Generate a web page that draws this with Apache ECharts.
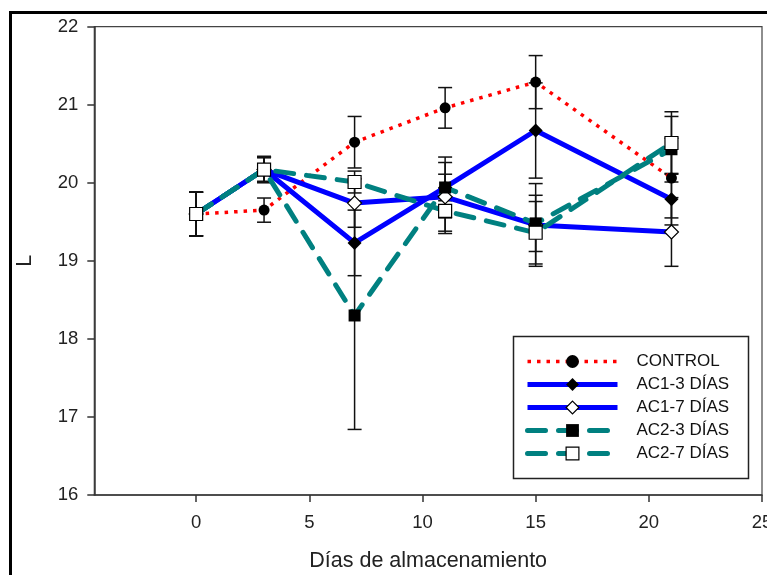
<!DOCTYPE html>
<html><head><meta charset="utf-8">
<script src="https://cdn.jsdelivr.net/npm/echarts@6/dist/echarts.min.js"></script>
<style>html,body{margin:0;padding:0;background:#fff;overflow:hidden}#c{position:absolute;left:0;top:0;width:767px;height:575px}</style>
</head><body><div id="c"></div>
<script>
const days = [0, 3, 7, 11, 15, 21];
const seriesNames = ['CONTROL', 'AC1-3 DÍAS', 'AC1-7 DÍAS', 'AC2-3 DÍAS', 'AC2-7 DÍAS'];
const control = [19.60, 19.65, 20.52, 20.96, 21.29, 20.06];
const controlErr = [0.28, 0.155, 0.33, 0.26, 0.34, 0.51];
const ac13 = [19.60, 20.17, 19.23, 19.94, 20.67, 19.79];
const ac13Err = [0.28, 0.16, 0.42, 0.39, 0.61, 0.33];
const ac17 = [19.60, 20.17, 19.74, 19.82, 19.46, 19.37];
const ac17Err = [0.28, 0.17, 0.31, 0.44, 0.53, 0.44];
const ac23 = [19.60, 20.17, 18.30, 19.94, 19.48, 20.43];
const ac23Err = [0.28, 0.16, 1.46, 0.17, 0.36, 0.42];
const ac27 = [19.60, 20.17, 20.01, 19.64, 19.36, 20.51];
const ac27Err = [0.28, 0.15, 0.14, 0.29, 0.40, 0.40];
const xTicks = [0, 5, 10, 15, 20, 25];
const xTitle = 'Días de almacenamiento';
const yTitle = 'L';

const FONT = 'Liberation Sans, Arial, sans-serif';
const RED = '#ff0000', BLUE = '#0000ff', TEAL = '#008080';

const values = [control, ac13, ac17, ac23, ac27];
const errs = [controlErr, ac13Err, ac17Err, ac23Err, ac27Err];

const lineStyles = [
  {color: RED, width: 3.5, type: [3.5, 6], cap: 'butt'},
  {color: BLUE, width: 5},
  {color: BLUE, width: 5},
  {color: TEAL, width: 5, type: [18, 13], cap: 'round'},
  {color: TEAL, width: 5, type: [18, 13], cap: 'round'}
];
const symbols = ['circle', 'diamond', 'diamond', 'rect', 'rect'];
const symbolSizes = [11, 14, 14, 12, 13];
const itemStyles = [
  {color: '#000'},
  {color: '#000'},
  {color: '#fff', borderColor: '#000', borderWidth: 1.2},
  {color: '#000'},
  {color: '#fff', borderColor: '#000', borderWidth: 1.2}
];

function renderErr(params, api) {
  const x = api.value(0), lo = api.value(1), hi = api.value(2);
  const pLo = api.coord([x, lo]), pHi = api.coord([x, hi]);
  const hw = 7;
  const style = {stroke: '#111', lineWidth: 1.5};
  return {type: 'group', children: [
    {type: 'line', shape: {x1: pLo[0], y1: pLo[1], x2: pHi[0], y2: pHi[1]}, style: style},
    {type: 'line', shape: {x1: pLo[0] - hw, y1: pLo[1], x2: pLo[0] + hw, y2: pLo[1]}, style: style},
    {type: 'line', shape: {x1: pHi[0] - hw, y1: pHi[1], x2: pHi[0] + hw, y2: pHi[1]}, style: style}
  ]};
}

const series = [];
values.forEach((vals, s) => {
  series.push({
    type: 'custom', name: seriesNames[s] + ' err', renderItem: renderErr,
    encode: {x: 0, y: [1, 2]}, silent: true, z: 1,
    data: days.map((d, i) => [d, vals[i] - errs[s][i], vals[i] + errs[s][i]])
  });
});
values.forEach((vals, s) => {
  series.push({
    type: 'line', name: seriesNames[s], z: 2,
    data: days.map((d, i) => [d, vals[i]]),
    symbol: symbols[s], symbolSize: symbolSizes[s], showSymbol: true,
    lineStyle: lineStyles[s], itemStyle: itemStyles[s],
    emphasis: {disabled: true}, silent: true
  });
});

const chart = echarts.init(document.getElementById('c'), null, {renderer: 'canvas', width: 767, height: 575});
chart.setOption({
  animation: false,
  backgroundColor: '#fff',
  grid: {left: 94.3, top: 26.7, right: 5, bottom: 80, show: true, borderColor: '#444', borderWidth: 1.2,
         containLabel: false, outerBoundsMode: 'none'},
  xAxis: {
    type: 'value', min: -4.5, max: 25,
    name: xTitle, nameLocation: 'middle', nameGap: 55,
    nameTextStyle: {fontSize: 21.5, fontFamily: FONT, color: '#222'},
    axisLine: {onZero: false, lineStyle: {color: '#333', width: 1.5}},
    axisTick: {show: true, length: 7, customValues: xTicks, lineStyle: {color: '#333', width: 1.5}},
    axisLabel: {customValues: xTicks, fontSize: 18.5, fontFamily: FONT, color: '#222', margin: 18},
    splitLine: {show: false}
  },
  yAxis: {
    type: 'value', min: 16, max: 22, interval: 1,
    name: yTitle, nameLocation: 'middle', nameGap: 58, nameRotate: 90,
    nameTextStyle: {fontSize: 21.5, fontFamily: FONT, color: '#222'},
    axisLine: {show: true, onZero: false, lineStyle: {color: '#333', width: 1.5}},
    axisTick: {show: true, length: 7, lineStyle: {color: '#333', width: 1.5}},
    axisLabel: {fontSize: 18.5, fontFamily: FONT, color: '#222', margin: 16},
    splitLine: {show: false}
  },
  legend: {
    left: 520, top: 348, orient: 'vertical', itemWidth: 90, itemHeight: 16, itemGap: 6,
    selectedMode: false,
    textStyle: {fontSize: 17, fontFamily: FONT, color: '#111', padding: [0, 0, 0, 14]},
    data: seriesNames.map((n, s) => ({name: n, lineStyle: lineStyles[s], itemStyle: itemStyles[s]}))
  },
  graphic: [
    {type: 'rect', z: -1, shape: {x: 10.5, y: 12.5, width: 800, height: 600}, style: {fill: null, stroke: '#000', lineWidth: 3}},
    {type: 'rect', z: 0, shape: {x: 513.5, y: 336.5, width: 235, height: 142}, style: {fill: '#fff', stroke: '#222', lineWidth: 1.5}}
  ],
  series: series
});
</script></body></html>
